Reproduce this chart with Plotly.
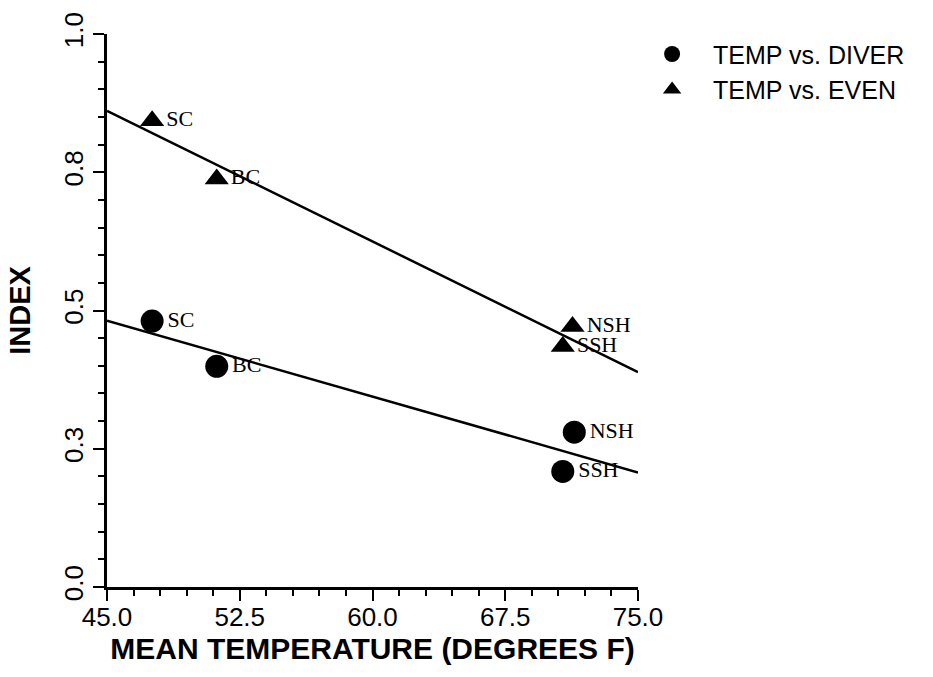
import numpy as np
import plotly.graph_objects as go

# ---- data ----
sites = ["SC", "BC", "NSH", "SSH"]
temp_diver = [47.55, 51.2, 71.4, 70.75]
diver = [0.481, 0.399, 0.280, 0.209]
temp_even = [47.55, 51.2, 71.3, 70.75]
even = [0.843, 0.738, 0.471, 0.435]

x_tickvals = [45.0, 52.5, 60.0, 67.5, 75.0]
x_ticktext = ["45.0", "52.5", "60.0", "67.5", "75.0"]
y_tickvals = [0.0, 0.25, 0.5, 0.75, 1.0]
y_ticktext = ["0.0", "0.3", "0.5", "0.8", "1.0"]
fit_x = [45.0, 75.0]

# least-squares regression lines for each series
b_d, a_d = np.polyfit(temp_diver, diver, 1)
b_e, a_e = np.polyfit(temp_even, even, 1)
fit_diver = [a_d + b_d * x for x in fit_x]
fit_even = [a_e + b_e * x for x in fit_x]

label_font = dict(family="Liberation Serif", size=22, color="black")

fig = go.Figure()

fig.add_trace(go.Scatter(x=fit_x, y=fit_even, mode="lines",
                         line=dict(color="black", width=2.5), showlegend=False,
                         hoverinfo="skip"))
fig.add_trace(go.Scatter(x=fit_x, y=fit_diver, mode="lines",
                         line=dict(color="black", width=2.5), showlegend=False,
                         hoverinfo="skip"))

fig.add_trace(go.Scatter(x=temp_diver, y=diver, mode="markers+text", text=sites,
                         textposition="middle right", textfont=label_font,
                         marker=dict(symbol="circle", size=23, color="black"),
                         showlegend=False, cliponaxis=False))
fig.add_trace(go.Scatter(x=temp_even, y=even, mode="markers+text", text=sites,
                         textposition="middle right", textfont=label_font,
                         marker=dict(symbol="triangle-up", size=21, color="black"),
                         showlegend=False, cliponaxis=False))

# legend entries
fig.add_trace(go.Scatter(x=[None], y=[None], mode="markers", name="TEMP vs. DIVER",
                         marker=dict(symbol="circle", size=22, color="black")))
fig.add_trace(go.Scatter(x=[None], y=[None], mode="markers", name="TEMP vs. EVEN",
                         marker=dict(symbol="triangle-up", size=20, color="black")))

axis_common = dict(showline=True, linecolor="black", linewidth=2.5, mirror=False,
                   showgrid=False, zeroline=False, ticks="outside", ticklen=11,
                   tickwidth=2, tickcolor="black",
                   tickfont=dict(family="Liberation Sans", size=26, color="black"))

fig.update_xaxes(range=[45, 75], tickvals=x_tickvals, ticktext=x_ticktext,
                 ticklabelstandoff=-6,
                 minor=dict(dtick=1.5, tick0=45, ticks="outside", ticklen=6,
                            tickwidth=2, tickcolor="black", showgrid=False),
                 title=dict(text="<b>MEAN TEMPERATURE (DEGREES F)</b>",
                            font=dict(family="Liberation Sans", size=30, color="black"),
                            standoff=4),
                 **axis_common)
fig.update_yaxes(range=[0, 1], tickvals=y_tickvals, ticktext=y_ticktext, tickangle=-90,
                 minor=dict(dtick=0.05, tick0=0, ticks="outside", ticklen=6,
                            tickwidth=2, tickcolor="black", showgrid=False),
                 title=dict(text="<b>INDEX</b>",
                            font=dict(family="Liberation Sans", size=29, color="black"),
                            standoff=20),
                 **axis_common)

fig.update_layout(
    width=933, height=677,
    margin=dict(l=107, r=295, t=27, b=90),
    paper_bgcolor="white", plot_bgcolor="white",
    legend=dict(x=0.987, y=1.005, xanchor="left", yanchor="top",
                font=dict(family="Liberation Sans", size=25, color="black"),
                bgcolor="rgba(0,0,0,0)", itemsizing="trace", itemwidth=72,
                tracegroupgap=0),
)

fig.write_html("out.html")
